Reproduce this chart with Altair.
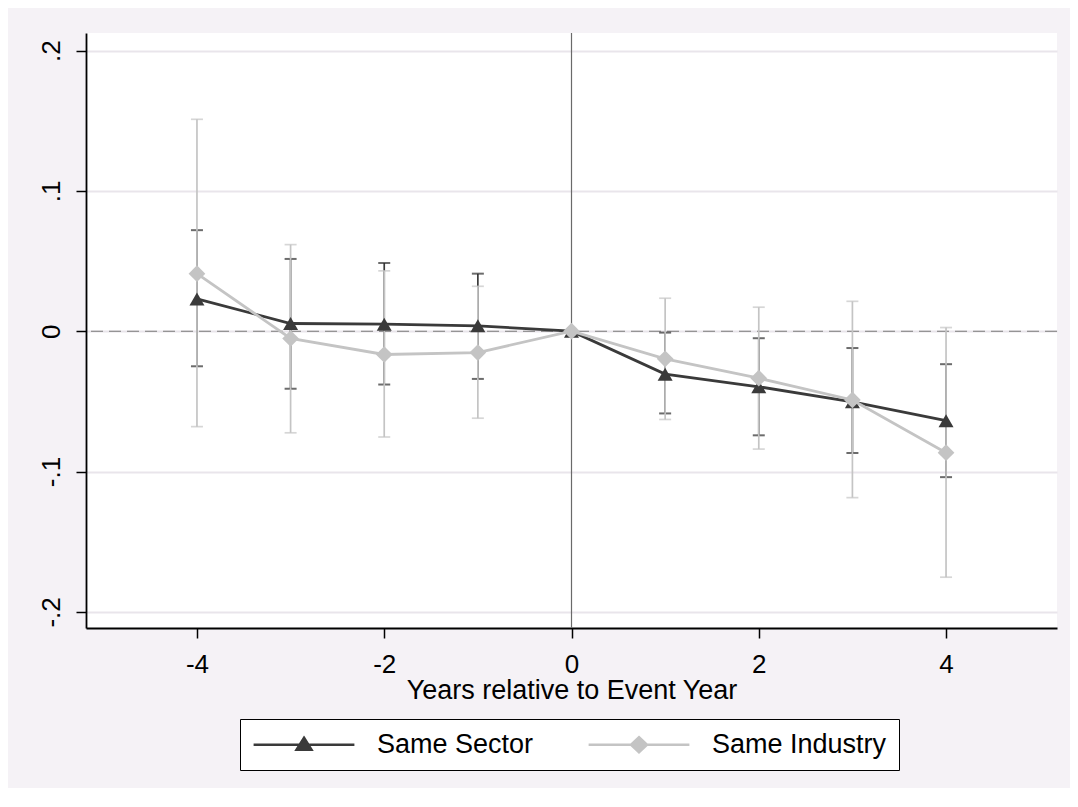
import altair as alt
import pandas as pd

# ---- data ----
years = [-4, -3, -2, -1, 0, 1, 2, 3, 4]
series_names = ["Same Sector", "Same Industry"]

sector = [0.023, 0.0055, 0.005, 0.0038, 0.0, -0.0306, -0.0396, -0.0503, -0.0638]
sector_lo = [-0.025, -0.041, -0.038, -0.034, None, -0.0586, -0.0742, -0.0868, -0.104]
sector_hi = [0.072, 0.0515, 0.0486, 0.041, None, -0.001, -0.005, -0.012, -0.0235]

industry = [0.041, -0.0052, -0.0166, -0.0152, 0.0, -0.0197, -0.0335, -0.049, -0.0866]
industry_lo = [-0.068, -0.0724, -0.0754, -0.062, None, -0.0629, -0.084, -0.1186, -0.1753]
industry_hi = [0.151, 0.0617, 0.043, 0.032, None, 0.0235, 0.0171, 0.0213, 0.0026]

y_ticks = [-0.2, -0.1, 0.0, 0.1, 0.2]
x_ticks = [-4, -2, 0, 2, 4]
ref_x = [0]
ref_y = [0]

DARK = "#3a3a3a"
LIGHT = "#c4c4c4"
FONT = "Liberation Sans"

sec_df = pd.DataFrame({"year": years, "value": sector, "lo": sector_lo, "hi": sector_hi})
ind_df = pd.DataFrame({"year": years, "value": industry, "lo": industry_lo, "hi": industry_hi})
sec_ci = sec_df.dropna()
ind_ci = ind_df.dropna()

xscale = alt.Scale(domain=[-5.185, 5.185], nice=False, zero=False)
yscale = alt.Scale(domain=[-0.2115, 0.2125], nice=False, zero=False)

xaxis = alt.Axis(values=x_ticks, labelExpr="'' + datum.value", title="Years relative to Event Year",
                 grid=False, domainColor="black", domainWidth=1.8,
                 tickColor="black", tickSize=10, tickWidth=1.5,
                 labelFont=FONT, labelFontSize=26, labelColor="black",
                 labelBaseline="alphabetic", labelPadding=34,
                 titleFont=FONT, titleFontSize=27, titleFontWeight="normal", titleColor="black",
                 titleBaseline="alphabetic", titleY=70)

yaxis = alt.Axis(values=y_ticks,
                 labelExpr="datum.value == 0 ? '0' : replace(replace(format(datum.value, '.1f'), '0.', '.'), '\u2212', '-')",
                 title=None, grid=True, gridColor="#e9e5eb", gridWidth=1.8,
                 domainColor="black", domainWidth=1.8,
                 tickColor="black", tickSize=10, tickWidth=1.5,
                 labelFont=FONT, labelFontSize=26, labelColor="black",
                 labelAngle=270, labelAlign="center", labelBaseline="alphabetic",
                 labelPadding=17)

X = alt.X("year:Q", scale=xscale, axis=xaxis)
Y = alt.Y("value:Q", scale=yscale, axis=yaxis)

base_axes = alt.Chart(sec_df).mark_point(opacity=0).encode(x=X, y=Y)

hline = alt.Chart(pd.DataFrame({"v": ref_y})).mark_rule(
    color="#7a7a7a", strokeWidth=1.1, strokeDash=[12, 6]
).encode(y=alt.Y("v:Q", scale=yscale))

vline = alt.Chart(pd.DataFrame({"v": ref_x})).mark_rule(
    color="#6a6a6a", strokeWidth=1.2
).encode(x=alt.X("v:Q", scale=xscale))


def ci_layers(df, color, cap_color, thick):
    bar = alt.Chart(df).mark_rule(color=color, strokeWidth=1.7).encode(
        x=alt.X("year:Q", scale=xscale),
        y=alt.Y("lo:Q", scale=yscale),
        y2="hi:Q",
    )
    cap_lo = alt.Chart(df).mark_tick(color=cap_color, orient="horizontal", size=12, thickness=thick).encode(
        x=alt.X("year:Q", scale=xscale), y=alt.Y("lo:Q", scale=yscale))
    cap_hi = alt.Chart(df).mark_tick(color=cap_color, orient="horizontal", size=12, thickness=thick).encode(
        x=alt.X("year:Q", scale=xscale), y=alt.Y("hi:Q", scale=yscale))
    return [bar, cap_lo, cap_hi]


def series_layers(df, color, shape, size):
    line = alt.Chart(df).mark_line(color=color, strokeWidth=2.8).encode(
        x=alt.X("year:Q", scale=xscale), y=alt.Y("value:Q", scale=yscale))
    pts = alt.Chart(df).mark_point(color=color, filled=True, opacity=1, shape=shape, size=size).encode(
        x=alt.X("year:Q", scale=xscale), y=alt.Y("value:Q", scale=yscale))
    return [line, pts]


# legend symbols: long line segment with marker; unit = sqrt(196)/2 = 7 px
sector_sym = "M-1.7,0L12.7,0M5.5,-1L6.57,0.71L4.43,0.71Z"
industry_sym = "M-1.7,0L12.7,0M5.5,-1.07L6.64,0L5.5,1.07L4.36,0Z"

leg_df = pd.DataFrame({"series": series_names, "year": [years[4]] * 2, "value": [sector[4]] * 2})
legend = alt.Legend(orient="none", legendX=154, legendY=686, direction="horizontal",
                    title=None, labelFont=FONT, labelFontSize=27, labelColor="black",
                    labelLimit=400,
                    symbolSize=196, symbolStrokeWidth=2.5, symbolOpacity=1,
                    strokeColor="black", fillColor="white", padding=12,
                    labelOffset=98, columnPadding=49, columns=2)
legend_layer = alt.Chart(leg_df).mark_point(opacity=0, filled=True).encode(
    x=alt.X("year:Q", scale=xscale),
    y=alt.Y("value:Q", scale=yscale),
    shape=alt.Shape("series:N", sort=series_names,
                    scale=alt.Scale(domain=series_names, range=[sector_sym, industry_sym]),
                    legend=legend),
    fill=alt.Fill("series:N", sort=series_names,
                  scale=alt.Scale(domain=series_names, range=[DARK, LIGHT]), legend=legend),
    stroke=alt.Stroke("series:N", sort=series_names,
                      scale=alt.Scale(domain=series_names, range=[DARK, LIGHT]), legend=legend),
)

layers = [base_axes, hline, vline]
layers += ci_layers(sec_ci, DARK, "#2e2e2e", 2.0)
layers += ci_layers(ind_ci, LIGHT, LIGHT, 1.7)
layers += series_layers(sec_df, DARK, "triangle-up", 225)
layers += series_layers(ind_df, LIGHT, "diamond", 280)
layers += [legend_layer]

chart = alt.layer(*layers).properties(
    width=971, height=595,
    background="#f5f2f6",
    padding={"left": 78, "top": 25, "right": 13, "bottom": 160},
    autosize=alt.AutoSizeParams(type="none"),
).configure_view(fill="white", stroke=None)

chart.save("out.html", embed_options={"renderer": "svg", "actions": False})
